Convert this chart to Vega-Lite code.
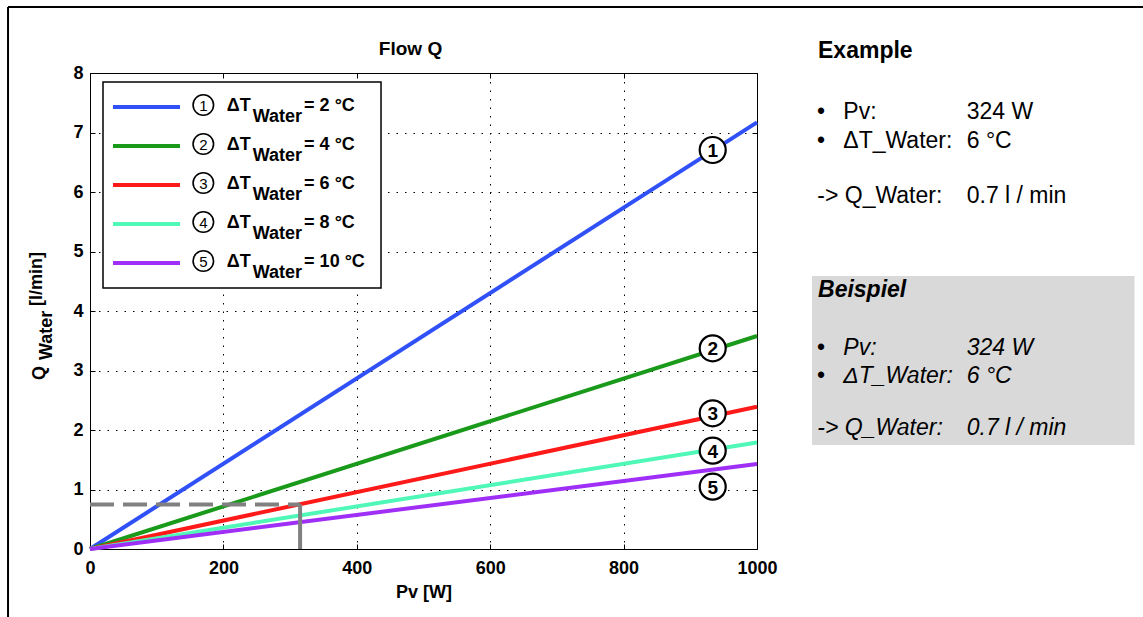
{
  "$schema": "https://vega.github.io/schema/vega-lite/v6.json",
  "width": 667,
  "height": 476,
  "autosize": {"type": "none"},
  "padding": {"left": 90, "top": 73, "right": 386, "bottom": 68},
  "background": "white",
  "config": {
    "font": "Liberation Sans",
    "view": {"stroke": "black", "strokeWidth": 1},
    "axis": {
      "labelFont": "Liberation Sans", "labelFontSize": 18, "labelFontWeight": "bold", "labelColor": "black",
      "titleFont": "Liberation Sans", "titleFontSize": 18, "titleFontWeight": "bold", "titleColor": "black",
      "tickColor": "black", "domain": false, "format": "d", "labelFlush": false, "labelOverlap": false,
      "gridColor": "black", "gridOpacity": 1, "gridDash": [1.5, 7], "gridWidth": 1
    }
  },
  "datasets": {
    "lines": [
      {"series": "1", "Pv": 0, "Q": 0}, {"series": "1", "Pv": 1000, "Q": 7.17},
      {"series": "2", "Pv": 0, "Q": 0}, {"series": "2", "Pv": 1000, "Q": 3.58},
      {"series": "3", "Pv": 0, "Q": 0}, {"series": "3", "Pv": 1000, "Q": 2.39},
      {"series": "4", "Pv": 0, "Q": 0}, {"series": "4", "Pv": 1000, "Q": 1.79},
      {"series": "5", "Pv": 0, "Q": 0}, {"series": "5", "Pv": 1000, "Q": 1.43}
    ],
    "example": [{"Pv": 0, "Q": 0.75}, {"Pv": 315, "Q": 0.75}],
    "legend": [
      {"series": "1", "label": "= 2 °C", "Q": 7.429},
      {"series": "2", "label": "= 4 °C", "Q": 6.773},
      {"series": "3", "label": "= 6 °C", "Q": 6.118},
      {"series": "4", "label": "= 8 °C", "Q": 5.462},
      {"series": "5", "label": "= 10 °C", "Q": 4.807}
    ],
    "marks": [
      {"series": "1", "Q": 6.706}, {"series": "2", "Q": 3.373}, {"series": "3", "Q": 2.281},
      {"series": "4", "Q": 1.652}, {"series": "5", "Q": 1.047}
    ],
    "ytitle": [
      {"t": "Q", "Pv": -67.5, "Q": 2.84, "part": "base"},
      {"t": "[l/min]", "Pv": -72, "Q": 4.084, "part": "base"},
      {"t": "Water", "Pv": -57, "Q": 3.176, "part": "sub"}
    ],
    "side_normal": [
      {"t": "Pv:", "Pv": 1129.4, "Q": 7.227},
      {"t": "324 W", "Pv": 1314.4, "Q": 7.227},
      {"t": "ΔT_Water:", "Pv": 1129.4, "Q": 6.745},
      {"t": "6 °C", "Pv": 1314.4, "Q": 6.745},
      {"t": "-> Q_Water:", "Pv": 1090.4, "Q": 5.82},
      {"t": "0.7 l / min", "Pv": 1314.4, "Q": 5.82}
    ],
    "side_italic": [
      {"t": "Pv:", "Pv": 1129.4, "Q": 3.261},
      {"t": "324 W", "Pv": 1314.4, "Q": 3.261},
      {"t": "ΔT_Water:", "Pv": 1129.4, "Q": 2.785},
      {"t": "6 °C", "Pv": 1314.4, "Q": 2.785},
      {"t": "-> Q_Water:", "Pv": 1090.4, "Q": 1.916},
      {"t": "0.7 l / min", "Pv": 1314.4, "Q": 1.916}
    ],
    "bullets": [
      {"Pv": 1096, "Q": 7.227}, {"Pv": 1096, "Q": 6.745}, {"Pv": 1096, "Q": 3.261}, {"Pv": 1096, "Q": 2.785}
    ],
    "headings": [
      {"t": "Flow Q", "Pv": 480.5, "Q": 8.303, "kind": "title"},
      {"t": "Example", "Pv": 1091.5, "Q": 8.252, "kind": "en"},
      {"t": "Beispiel", "Pv": 1091.5, "Q": 4.23, "kind": "de"}
    ],
    "one": [{}]
  },
  "layer": [
    {
      "data": {"name": "one"},
      "mark": {"type": "rule", "color": "black", "strokeWidth": 2, "clip": false},
      "encoding": {
        "x": {"datum": -122.9, "type": "quantitative", "axis": null},
        "y": {"datum": 9.11, "type": "quantitative", "axis": null},
        "y2": {"datum": -1.5}
      }
    },
    {
      "data": {"name": "one"},
      "mark": {"type": "rule", "color": "black", "strokeWidth": 2, "clip": false},
      "encoding": {
        "x": {"datum": -122.9, "type": "quantitative", "axis": null},
        "x2": {"datum": 1600},
        "y": {"datum": 9.11, "type": "quantitative", "axis": null}
      }
    },
    {
      "data": {"name": "one"},
      "mark": {"type": "rect", "fill": "#d9d9d9", "clip": false},
      "encoding": {
        "x": {"datum": 1082.5, "type": "quantitative", "axis": null},
        "x2": {"datum": 1566},
        "y": {"datum": 4.588, "type": "quantitative", "axis": null},
        "y2": {"datum": 1.748}
      }
    },
    {
      "data": {"name": "lines"},
      "mark": {"type": "line", "strokeWidth": 4, "clip": false},
      "encoding": {
        "x": {"field": "Pv", "type": "quantitative",
          "scale": {"domain": [0, 1000], "nice": false, "zero": false},
          "axis": {"orient": "bottom", "values": [0, 200, 400, 600, 800, 1000], "title": "Pv [W]", "grid": true, "tickSize": -5, "labelPadding": 15, "titlePadding": 6}},
        "y": {"field": "Q", "type": "quantitative",
          "scale": {"domain": [0, 8], "nice": false, "zero": false},
          "axis": {"orient": "left", "values": [0, 1, 2, 3, 4, 5, 6, 7, 8], "title": null, "grid": true, "tickSize": -5, "labelPadding": 12}},
        "color": {"field": "series", "type": "nominal",
          "scale": {"domain": ["1", "2", "3", "4", "5"], "range": ["#3050f8", "#1a9a1a", "#ff1a1a", "#50f8b8", "#9f2ff7"]},
          "legend": null}
      }
    },
    {
      "data": {"name": "example"},
      "mark": {"type": "line", "strokeWidth": 4, "color": "#808080", "strokeDash": [24, 9], "clip": false},
      "encoding": {
        "x": {"field": "Pv", "type": "quantitative", "axis": null},
        "y": {"field": "Q", "type": "quantitative", "axis": null}
      }
    },
    {
      "data": {"name": "example"},
      "transform": [{"filter": "datum.Pv > 0"}],
      "mark": {"type": "rule", "strokeWidth": 4, "color": "#808080", "clip": false},
      "encoding": {
        "x": {"field": "Pv", "type": "quantitative", "axis": null},
        "y": {"field": "Q", "type": "quantitative", "axis": null},
        "y2": {"datum": 0}
      }
    },
    {
      "data": {"name": "one"},
      "mark": {"type": "rect", "fill": "white", "stroke": "black", "strokeWidth": 1.5, "clip": false},
      "encoding": {
        "x": {"datum": 19.5, "type": "quantitative",
          "axis": {"orient": "top", "values": [0, 200, 400, 600, 800, 1000], "labels": false, "title": null, "grid": false, "tickSize": -5}},
        "x2": {"datum": 436.3},
        "y": {"datum": 4.387, "type": "quantitative",
          "axis": {"orient": "right", "values": [0, 1, 2, 3, 4, 5, 6, 7, 8], "labels": false, "title": null, "grid": false, "tickSize": -5}},
        "y2": {"datum": 7.849}
      }
    },
    {
      "data": {"name": "legend"},
      "mark": {"type": "rule", "strokeWidth": 4, "clip": false},
      "encoding": {
        "x": {"datum": 34.5, "type": "quantitative", "axis": null},
        "x2": {"datum": 134.9},
        "y": {"field": "Q", "type": "quantitative", "axis": null},
        "color": {"field": "series", "type": "nominal", "legend": null}
      }
    },
    {
      "data": {"name": "legend"},
      "mark": {"type": "point", "shape": "circle", "size": 420, "stroke": "black", "strokeWidth": 1.6, "fill": "white", "filled": false, "opacity": 1, "yOffset": -2, "clip": false},
      "encoding": {
        "x": {"datum": 169.9, "type": "quantitative", "axis": null},
        "y": {"field": "Q", "type": "quantitative", "axis": null}
      }
    },
    {
      "data": {"name": "legend"},
      "mark": {"type": "text", "fontSize": 15, "color": "black", "baseline": "middle", "align": "center", "dy": -1, "clip": false},
      "encoding": {
        "x": {"datum": 169.9, "type": "quantitative", "axis": null},
        "y": {"field": "Q", "type": "quantitative", "axis": null},
        "text": {"field": "series"}
      }
    },
    {
      "data": {"name": "legend"},
      "mark": {"type": "text", "fontSize": 18, "fontWeight": "bold", "color": "black", "baseline": "alphabetic", "align": "left", "dy": 4, "clip": false},
      "encoding": {
        "x": {"datum": 205, "type": "quantitative", "axis": null},
        "y": {"field": "Q", "type": "quantitative", "axis": null},
        "text": {"value": "ΔT"}
      }
    },
    {
      "data": {"name": "legend"},
      "mark": {"type": "text", "fontSize": 18, "fontWeight": "bold", "color": "black", "baseline": "alphabetic", "align": "left", "dy": 15, "clip": false},
      "encoding": {
        "x": {"datum": 244, "type": "quantitative", "axis": null},
        "y": {"field": "Q", "type": "quantitative", "axis": null},
        "text": {"value": "Water"}
      }
    },
    {
      "data": {"name": "legend"},
      "mark": {"type": "text", "fontSize": 18, "fontWeight": "bold", "color": "black", "baseline": "alphabetic", "align": "left", "dy": 4, "clip": false},
      "encoding": {
        "x": {"datum": 321, "type": "quantitative", "axis": null},
        "y": {"field": "Q", "type": "quantitative", "axis": null},
        "text": {"field": "label"}
      }
    },
    {
      "data": {"name": "marks"},
      "mark": {"type": "point", "shape": "circle", "size": 676, "stroke": "black", "strokeWidth": 2.2, "fill": "white", "filled": false, "opacity": 1, "clip": false},
      "encoding": {
        "x": {"datum": 933.6, "type": "quantitative", "axis": null},
        "y": {"field": "Q", "type": "quantitative", "axis": null}
      }
    },
    {
      "data": {"name": "marks"},
      "mark": {"type": "text", "fontSize": 19, "fontWeight": "bold", "color": "black", "baseline": "middle", "align": "center", "dy": 1, "clip": false},
      "encoding": {
        "x": {"datum": 933.6, "type": "quantitative", "axis": null},
        "y": {"field": "Q", "type": "quantitative", "axis": null},
        "text": {"field": "series"}
      }
    },
    {
      "data": {"name": "ytitle"},
      "transform": [{"filter": "datum.part == 'base'"}],
      "mark": {"type": "text", "fontSize": 18, "fontWeight": "bold", "color": "black", "angle": 270, "align": "left", "baseline": "alphabetic", "clip": false},
      "encoding": {
        "x": {"field": "Pv", "type": "quantitative", "axis": null},
        "y": {"field": "Q", "type": "quantitative", "axis": null},
        "text": {"field": "t"}
      }
    },
    {
      "data": {"name": "ytitle"},
      "transform": [{"filter": "datum.part == 'sub'"}],
      "mark": {"type": "text", "fontSize": 18, "fontWeight": "bold", "color": "black", "angle": 270, "align": "left", "baseline": "alphabetic", "clip": false},
      "encoding": {
        "x": {"field": "Pv", "type": "quantitative", "axis": null},
        "y": {"field": "Q", "type": "quantitative", "axis": null},
        "text": {"field": "t"}
      }
    },
    {
      "data": {"name": "bullets"},
      "mark": {"type": "text", "fontSize": 23, "color": "black", "align": "center", "baseline": "alphabetic", "clip": false},
      "encoding": {
        "x": {"field": "Pv", "type": "quantitative", "axis": null},
        "y": {"field": "Q", "type": "quantitative", "axis": null},
        "text": {"value": "•"}
      }
    },
    {
      "data": {"name": "side_normal"},
      "mark": {"type": "text", "fontSize": 23, "color": "black", "align": "left", "baseline": "alphabetic", "clip": false},
      "encoding": {
        "x": {"field": "Pv", "type": "quantitative", "axis": null},
        "y": {"field": "Q", "type": "quantitative", "axis": null},
        "text": {"field": "t"}
      }
    },
    {
      "data": {"name": "side_italic"},
      "mark": {"type": "text", "fontSize": 23, "fontStyle": "italic", "color": "black", "align": "left", "baseline": "alphabetic", "clip": false},
      "encoding": {
        "x": {"field": "Pv", "type": "quantitative", "axis": null},
        "y": {"field": "Q", "type": "quantitative", "axis": null},
        "text": {"field": "t"}
      }
    },
    {
      "data": {"name": "headings"},
      "transform": [{"filter": "datum.kind == 'title'"}],
      "mark": {"type": "text", "fontSize": 19, "fontWeight": "bold", "color": "black", "align": "center", "baseline": "alphabetic", "clip": false},
      "encoding": {
        "x": {"field": "Pv", "type": "quantitative", "axis": null},
        "y": {"field": "Q", "type": "quantitative", "axis": null},
        "text": {"field": "t"}
      }
    },
    {
      "data": {"name": "headings"},
      "transform": [{"filter": "datum.kind == 'en'"}],
      "mark": {"type": "text", "fontSize": 23, "fontWeight": "bold", "color": "black", "align": "left", "baseline": "alphabetic", "clip": false},
      "encoding": {
        "x": {"field": "Pv", "type": "quantitative", "axis": null},
        "y": {"field": "Q", "type": "quantitative", "axis": null},
        "text": {"field": "t"}
      }
    },
    {
      "data": {"name": "headings"},
      "transform": [{"filter": "datum.kind == 'de'"}],
      "mark": {"type": "text", "fontSize": 23, "fontWeight": "bold", "fontStyle": "italic", "color": "black", "align": "left", "baseline": "alphabetic", "clip": false},
      "encoding": {
        "x": {"field": "Pv", "type": "quantitative", "axis": null},
        "y": {"field": "Q", "type": "quantitative", "axis": null},
        "text": {"field": "t"}
      }
    }
  ]
}
